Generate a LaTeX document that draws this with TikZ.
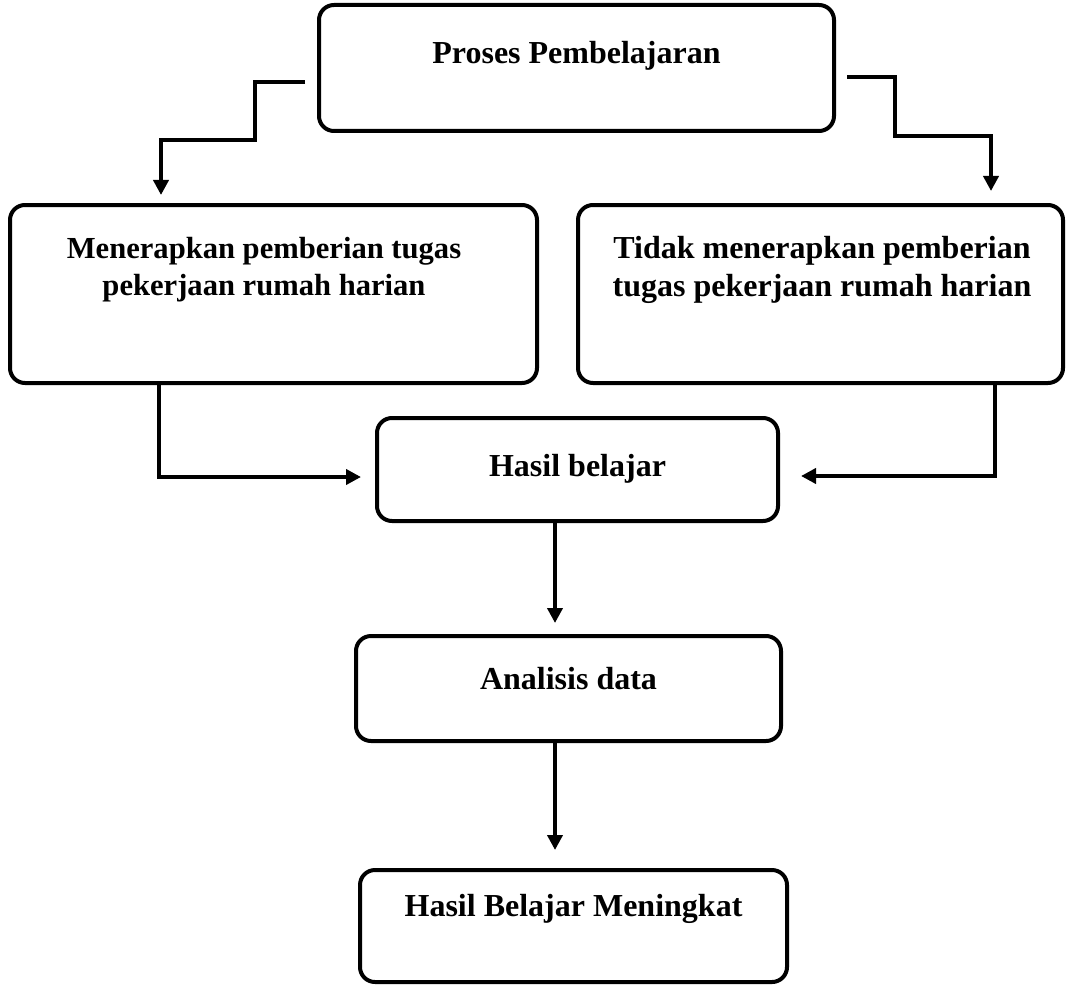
\documentclass[tikz,border=0pt]{standalone}
\usepackage{fontspec}
\setmainfont{Liberation Serif}
\usetikzlibrary{arrows.meta}
\tikzset{
  kotak/.style={draw, line width=2pt, rounded corners=7.5pt, inner sep=0pt},
  teks/.style={font=\fontsize{16}{18.7}\selectfont\bfseries, align=center, inner sep=0pt},
  panah/.style={line width=2pt, -{Triangle[width=7.5pt,length=7.5pt]}}
}
\begin{document}
\begin{tikzpicture}[x=0.5pt,y=-0.5pt]
\useasboundingbox (0,0) rectangle (1074,984);
% kotak
\node[kotak, minimum width=257.5pt, minimum height=63pt] (proses) at (576.5,68) {};
\node[kotak, minimum width=263.5pt, minimum height=89pt] (terap) at (273.5,294) {};
\node[kotak, minimum width=242.5pt, minimum height=89pt] (tidak) at (820.5,294) {};
\node[kotak, minimum width=200.5pt, minimum height=51.5pt] (hasil) at (577.5,469.5) {};
\node[kotak, minimum width=212.5pt, minimum height=52.5pt] (analisis) at (568.5,688.5) {};
\node[kotak, minimum width=213.5pt, minimum height=56pt] (naik) at (573.5,926) {};
% teks
\node[teks] (proses-t) at (576.5,56) {Proses Pembelajaran};
\node[teks, font=\fontsize{15.3}{18.5}\selectfont\bfseries] (terap-t) at (264,270) {Menerapkan pemberian tugas\\pekerjaan rumah harian};
\node[teks] (tidak-t) at (822,270) {Tidak menerapkan pemberian\\tugas pekerjaan rumah harian};
\node[teks] (hasil-t) at (577.5,469) {Hasil belajar};
\node[teks] (analisis-t) at (568.5,679) {Analisis data};
\node[teks] (naik-t) at (573.5,909) {Hasil Belajar Meningkat};
% panah
\draw[panah] ([xshift=-6pt,yshift=-7pt]proses.west) -- ++(-50,0) -- ++(0,58)
  -| ([xshift=76.5pt,yshift=4pt]terap.north west);
\draw[panah] ([xshift=5.5pt,yshift=-4.5pt]proses.east) -- ++(48,0) -- ++(0,59)
  -| ([xshift=207.5pt,yshift=6pt]tidak.north west);
\draw[panah] ([xshift=75.5pt]terap.south west) |- ([xshift=-7pt,yshift=-3.75pt]hasil.west);
\draw[panah] ([xshift=209.5pt]tidak.south west) |- ([xshift=10.5pt,yshift=-3.25pt]hasil.east);
\draw[panah] ([xshift=-11.25pt]hasil.south) -- ([xshift=-6.75pt,yshift=5.5pt]analisis.north);
\draw[panah] ([xshift=-6.75pt]analisis.south) -- ([xshift=-9.25pt,yshift=9pt]naik.north);
\end{tikzpicture}
\end{document}
